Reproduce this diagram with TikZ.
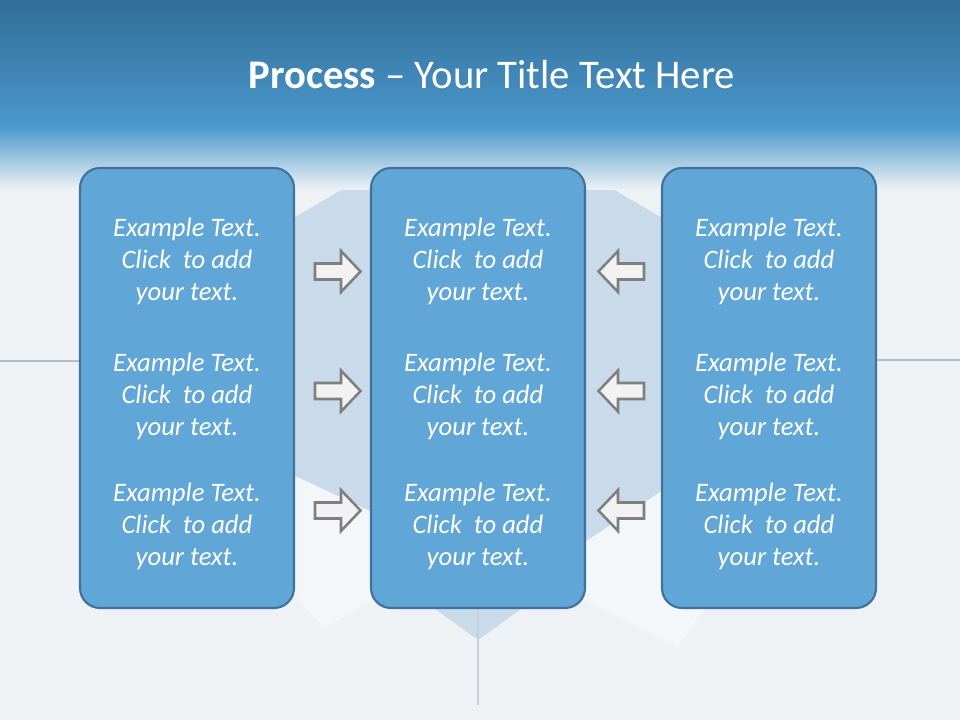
\documentclass[tikz,border=0pt]{standalone}
\usepackage{fontspec}
\setmainfont{Carlito}
\definecolor{bgc}{HTML}{EEF2F5}
\definecolor{diamc}{HTML}{C9DBEA}
\definecolor{flapc}{HTML}{F4F7FA}
\definecolor{titletop}{HTML}{326E98}
\definecolor{titlebot}{HTML}{4A98CC}
\definecolor{boxfill}{HTML}{60A6D6}
\definecolor{boxdraw}{HTML}{41719C}
\definecolor{arrfill}{HTML}{F2F2F2}
\definecolor{arrdraw}{HTML}{7F7F7F}
\definecolor{foldc}{HTML}{B4BCC4}
\begin{document}
\begin{tikzpicture}[x=0.75pt,y=-0.75pt,
  procbox/.style={draw=boxdraw, fill=boxfill, line width=1.6pt, rounded corners=15pt,
    minimum width=160.5pt, minimum height=330pt, inner sep=0pt},
  txt/.style={text=white, align=center, font=\fontsize{20}{24}\selectfont\itshape, inner sep=0pt},
  arrpoly/.style={draw=arrdraw, fill=arrfill, line width=1.9pt, line join=miter},
  blockarrow/.pic={\draw[arrpoly] (-23,-8) -- (3,-8) -- (3,-20.5) -- (22.5,0) -- (3,20.5) -- (3,8) -- (-23,8) -- cycle;}]
\useasboundingbox (0,0) rectangle (960,720);
% background
\fill[bgc] (0,0) rectangle (960,720);
\fill[diamc] (478,110) -- (700,240) -- (700,480) -- (478,640) -- (256,480) -- (256,240) -- cycle;
\fill[flapc] (250,455) -- (372,512) -- (372,600) -- (324,628) -- (290,590) -- cycle;
\fill[flapc] (585,542) -- (663,490) -- (705,470) -- (705,608) -- (678,647) -- (585,600) -- cycle;
\coordinate (fl1) at (0,361);
\coordinate (fl2) at (80,361);
\coordinate (fr1) at (876,360);
\coordinate (fr2) at (960,360);
\coordinate (fb1) at (478,608);
\coordinate (fb2) at (478,705);
\draw[foldc, line width=1.5pt] (fl1) -- (fl2);
\draw[foldc, line width=1.5pt] (fr1) -- (fr2);
\draw[foldc!70, line width=1.5pt] (fb1) -- (fb2);
% title band
\shade[top color=titlebot, bottom color=bgc] (0,126) rectangle (960,190);
\shade[top color=titletop, bottom color=titlebot] (0,0) rectangle (960,127);
\node[text=white, font=\fontsize{30.5}{36}\selectfont] (title) at (492,75)
  {\textbf{Process} – Your Title Text Here};
% boxes
\node[procbox] (b1) at (187,388) {};
\node[procbox] (b2) at (478,388) {};
\node[procbox] (b3) at (769,388) {};
% texts
\foreach \c/\x in {1/187,2/478,3/769}{
  \foreach \r/\y in {1/261,2/396,3/526}{
    \node[txt] (t\c\r) at (\x,\y) {Example Text.\\Click\ \ to add\\your text.};
  }
}
% arrows
\pic (ar1) at (338,271.5) {blockarrow};
\pic (ar2) at (338,391) {blockarrow};
\pic (ar3) at (338,510.5) {blockarrow};
\pic[xscale=-1] (al1) at (621,271.5) {blockarrow};
\pic[xscale=-1] (al2) at (621,391) {blockarrow};
\pic[xscale=-1] (al3) at (621,510.5) {blockarrow};
\end{tikzpicture}
\end{document}
